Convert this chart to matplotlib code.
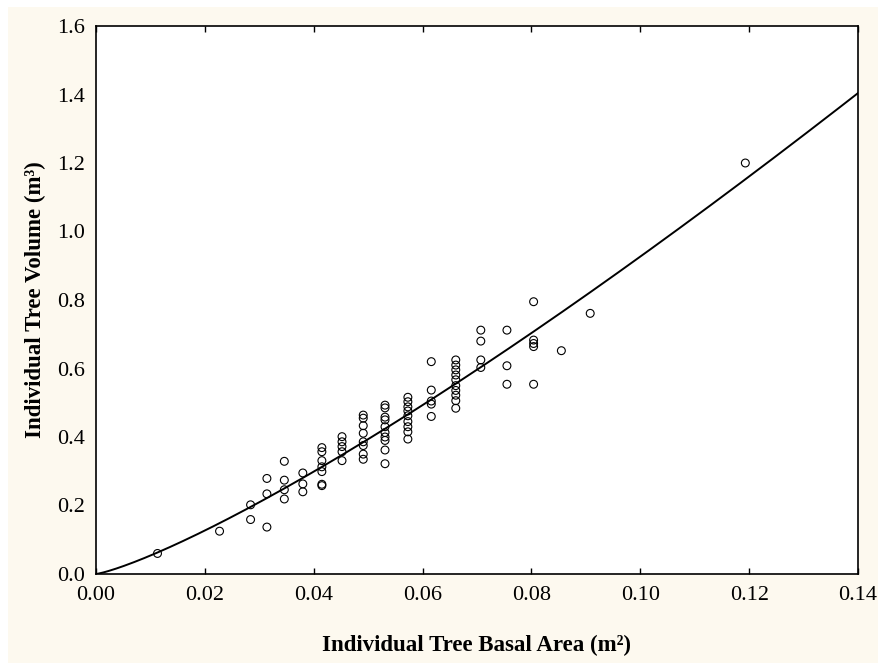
import matplotlib
matplotlib.use('Agg')
import matplotlib.pyplot as plt
from matplotlib.patches import Rectangle
import numpy as np

# basal area classes (m2) and the tree volumes measured in each (m3)
basal_area = [0.0113, 0.0227, 0.0284, 0.0314, 0.0346, 0.0380, 0.0415, 0.0452,
              0.0491, 0.0531, 0.0573, 0.0616, 0.0661, 0.0707, 0.0755, 0.0804,
              0.0855, 0.0908, 0.1193]
volumes = [
    [0.060],
    [0.125],
    [0.202, 0.159],
    [0.279, 0.234, 0.137],
    [0.329, 0.274, 0.246, 0.219],
    [0.295, 0.263, 0.240],
    [0.369, 0.357, 0.331, 0.313, 0.299, 0.262, 0.258],
    [0.401, 0.386, 0.372, 0.357, 0.331],
    [0.464, 0.455, 0.433, 0.411, 0.386, 0.375, 0.350, 0.335],
    [0.493, 0.485, 0.458, 0.450, 0.430, 0.413, 0.400, 0.390, 0.362, 0.322],
    [0.516, 0.503, 0.488, 0.476, 0.462, 0.445, 0.430, 0.415, 0.394],
    [0.620, 0.537, 0.505, 0.496, 0.460],
    [0.625, 0.610, 0.596, 0.581, 0.567, 0.550, 0.536, 0.522, 0.506, 0.484],
    [0.712, 0.680, 0.625, 0.603],
    [0.712, 0.608, 0.554],
    [0.795, 0.683, 0.673, 0.664, 0.554],
    [0.652],
    [0.761],
    [1.200],
]

# fitted model V = a * BA^b
fit_a = 15.92
fit_b = 1.235

x_ticks = [0.00, 0.02, 0.04, 0.06, 0.08, 0.10, 0.12, 0.14]
y_ticks = [0.0, 0.2, 0.4, 0.6, 0.8, 1.0, 1.2, 1.4, 1.6]

plt.rcParams['font.family'] = ['Liberation Serif', 'DejaVu Serif']

fig = plt.figure(figsize=(8.82, 6.63), dpi=100, facecolor='white')
fig.patches.append(Rectangle((8 / 882, 0), 870 / 882, 656 / 663,
                             transform=fig.transFigure, facecolor='#fdf9ef',
                             edgecolor='none', zorder=-10))
ax = fig.add_axes([96 / 882, 89 / 663, 762 / 882, 548 / 663])
ax.set_facecolor('white')

xs, ys = [], []
for ba, vols in zip(basal_area, volumes):
    for v in vols:
        xs.append(ba)
        ys.append(v)
ax.scatter(xs, ys, s=32, facecolors='none', edgecolors='black',
           linewidths=0.8, zorder=3)

curve_x = np.linspace(0, 0.14, 300)
ax.plot(curve_x, fit_a * curve_x ** fit_b, color='black', lw=1.4, zorder=2)

ax.set_xlim(0, 0.14)
ax.set_ylim(0, 1.6)
ax.set_xticks(x_ticks)
ax.set_xticklabels([f'{t:.2f}' for t in x_ticks])
ax.set_yticks(y_ticks)
ax.set_yticklabels([f'{t:.1f}' for t in y_ticks])
ax.tick_params(axis='x', direction='in', top=True, length=4, width=1,
               pad=9, labelsize=16)
ax.tick_params(axis='y', length=0, pad=8, labelsize=16)
for sp in ax.spines.values():
    sp.set_linewidth(1.2)

ax.set_xlabel('Individual Tree Basal Area (m²)', fontsize=16.5,
              fontweight='bold', va='center')
ax.xaxis.set_label_coords(0.5, -0.131)
ax.set_ylabel('Individual Tree Volume (m³)', fontsize=16.5,
              fontweight='bold', va='center')
ax.yaxis.set_label_coords(-0.080, 0.5)

fig.savefig('out.png', dpi=100, facecolor=fig.get_facecolor())
